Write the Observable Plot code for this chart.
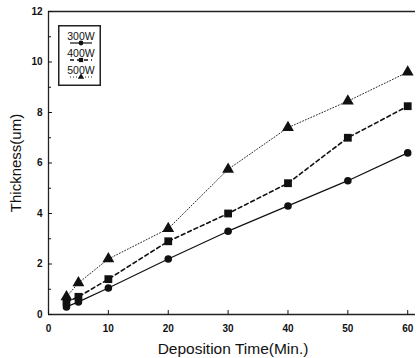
<!DOCTYPE html>
<html><head><meta charset="utf-8">
<script src="https://cdn.jsdelivr.net/npm/d3@7"></script>
<script src="https://cdn.jsdelivr.net/npm/@observablehq/plot@0.6"></script>
<style>
body{margin:0;background:#fff;}
#wrap{position:relative;width:417px;height:358px;font-family:"Liberation Sans",Arial,sans-serif;}
#legend{position:absolute;left:58px;top:25px;}
</style>
</head><body>
<div id="wrap"></div>
<script>
const times = [3, 5, 10, 20, 30, 40, 50, 60];
const series = ["300W", "400W", "500W"];
const t300 = [0.3, 0.5, 1.05, 2.2, 3.3, 4.3, 5.3, 6.4];
const t400 = [0.5, 0.7, 1.4, 2.9, 4.0, 5.2, 7.0, 8.25];
const t500 = [0.7, 1.25, 2.2, 3.4, 5.75, 7.4, 8.45, 9.6];
const xTicks = [0, 10, 20, 30, 40, 50, 60];
const yTicks = [0, 2, 4, 6, 8, 10, 12];
const yMinor = [1, 3, 5, 7, 9, 11];

const symbols = {"300W": "circle", "400W": "square", "500W": "triangle"};
const dashes = {"300W": null, "400W": "4,3", "500W": "1,2"};
const widths = {"300W": 1.2, "400W": 1.6, "500W": 0.9};
const vals = {"300W": t300, "400W": t400, "500W": t500};
const data = series.flatMap(s => times.map((t, i) => ({s, t, v: vals[s][i]})));

const marks = [];
for (const s of series) {
  const d = data.filter(e => e.s === s);
  marks.push(Plot.line(d, {x: "t", y: "v", stroke: "#111", strokeWidth: widths[s], strokeDasharray: dashes[s]}));
  marks.push(Plot.dot(d, {x: "t", y: "v", symbol: () => symbols[s], fill: "#111", stroke: "none", r: s === "300W" ? 3.8 : 4.4}));
}
marks.push(Plot.ruleX([0], {stroke: "#222", strokeWidth: 1.3}));
marks.push(Plot.ruleY([0], {stroke: "#222", strokeWidth: 1.3}));
marks.push(Plot.ruleY([12], {stroke: "#222", strokeWidth: 1.3}));
marks.push(Plot.axisX({ticks: xTicks, tickSize: -4, tickPadding: 14, fontSize: 10, fontWeight: "bold", tickFormat: d => String(d), label: null}));
marks.push(Plot.axisY({ticks: yTicks, tickSize: -4, tickPadding: 10, fontSize: 10, fontWeight: "bold", tickFormat: d => String(d), label: null}));
marks.push(Plot.axisY({ticks: yMinor, tickSize: -3, tickFormat: () => "", label: null}));

const chart = Plot.plot({
  width: 417, height: 358,
  marginLeft: 48, marginRight: 2, marginTop: 11, marginBottom: 44,
  style: {fontFamily: "Liberation Sans, Arial, sans-serif", color: "#111", background: "#fff"},
  x: {domain: [0, 61.3], range: [48, 415]},
  y: {domain: [0, 12], range: [314, 11]},
  marks
});
document.getElementById("wrap").appendChild(chart);

// axis titles as real text
const svg = d3.select(chart);
svg.append("text").attr("x", 233).attr("y", 354).attr("text-anchor", "middle")
  .attr("font-size", 15.5).attr("fill", "#111").text("Deposition Time(Min.)");
svg.append("text").attr("transform", "translate(21,163) rotate(-90)").attr("text-anchor", "middle")
  .attr("font-size", 15).attr("fill", "#111").text("Thickness(um)");

// legend
const lg = d3.select("#wrap").append("svg").attr("id", "legend").attr("width", 44).attr("height", 62);
lg.append("rect").attr("x", 0.75).attr("y", 0.75).attr("width", 41.5).attr("height", 59.5)
  .attr("fill", "#fff").attr("stroke", "#222").attr("stroke-width", 1.5);
series.forEach((s, i) => {
  const y0 = 15 + i * 17;
  lg.append("text").attr("x", 23).attr("y", y0).attr("text-anchor", "middle")
    .attr("font-size", 10.5).attr("fill", "#111").attr("font-family", "Liberation Sans Narrow, Liberation Sans, Arial, sans-serif").text(s);
  lg.append("line").attr("x1", 12).attr("x2", 34).attr("y1", y0 + 3).attr("y2", y0 + 3)
    .attr("stroke", "#111").attr("stroke-width", widths[s]).attr("stroke-dasharray", dashes[s]);
  lg.append("path").attr("transform", `translate(23,${y0 + 3})`)
    .attr("d", d3.symbol(s === "300W" ? d3.symbolCircle : s === "400W" ? d3.symbolSquare : d3.symbolTriangle, 18)())
    .attr("fill", "#111");
});
</script>
</body></html>
